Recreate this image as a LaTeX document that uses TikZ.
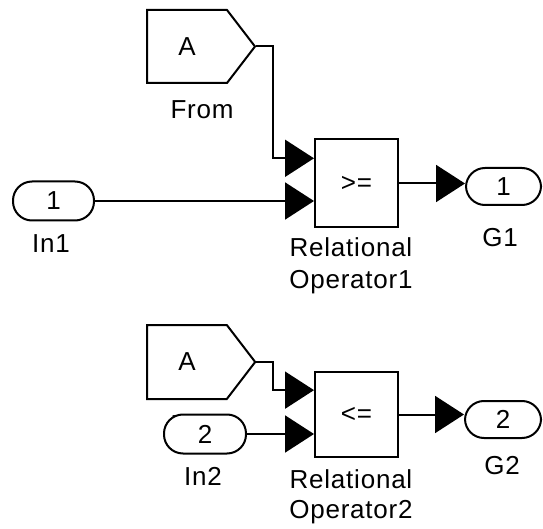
\documentclass[tikz,border=0pt]{standalone}
\usepackage{fontspec}
\setmainfont{Liberation Sans}[LetterSpace=3]
\usetikzlibrary{shapes.symbols,arrows.meta,calc}
\begin{document}
\begin{tikzpicture}[x=1pt,y=-1pt,
  font=\fontsize{26}{30}\selectfont,
  line width=2pt,
  fromblk/.style={draw,shape=signal,signal to=east,signal from=nowhere,
    signal pointer angle=105,minimum width=108pt,minimum height=73pt,inner sep=0pt},
  opblk/.style={draw,rectangle,minimum width=83pt,minimum height=88pt,inner sep=0pt},
  port/.style={draw,fill=white,rectangle,rounded corners=19pt,minimum width=81pt,
    minimum height=39pt,inner sep=0pt},
  lbl/.style={inner sep=0pt,anchor=base},
  wire/.style={line width=2pt,-{Triangle[length=29pt,width=37pt]}}]
\useasboundingbox (0,0) rectangle (543,529);

% upper comparison: A >= In1
\node[fromblk] (from1) at (187,46.5) {A};
\node[lbl] (from1lbl) at (202,119) {From};
\node[opblk] (op1) at (356.5,183.5) {};
\node (ge) at (356.5,183.5) {>=};
\node[lbl] (op1lblA) at (351,257) {Relational};
\node[lbl] (op1lblB) at (351,288) {Operator1};
\node[port] (in1) at (53.5,201) {1};
\node[lbl] (in1lbl) at (51,252) {In1};
\node[port,minimum width=75pt,minimum height=37pt] (g1) at (503.5,186.5) {1};
\node[lbl] (g1lbl) at (500,247) {G1};

\draw[wire] (from1.east) -- ++(17,0) |- ($(op1.north west)!0.22!(op1.south west)$);
\draw[wire] (in1.east) -- (in1.east -| op1.west);
\draw[wire] (op1.east) -- (op1.east -| g1.west);

% lower comparison: A <= In2 (the In2 port sits over the From label)
\node[fromblk,minimum height=74pt] (from2) at (187,362) {A};
\node[lbl] (from2lbl) at (202,433) {From};
\node[opblk,minimum height=85pt] (op2) at (356.5,414.5) {};
\node (le) at (356.5,414.5) {<=};
\node[lbl] (op2lblA) at (351,488) {Relational};
\node[lbl] (op2lblB) at (351,518) {Operator2};
\node[port,minimum width=82pt] (in2) at (205,434) {2};
\node[lbl] (in2lbl) at (203,485) {In2};
\node[port,minimum width=76pt,minimum height=37pt] (g2) at (503,419.5) {2};
\node[lbl] (g2lbl) at (502,474) {G2};

\draw[wire] (from2.east) -- ++(17,0) |- ($(op2.north west)!0.22!(op2.south west)$);
\draw[wire] (in2.east) -- (in2.east -| op2.west);
\draw[wire] (op2.east) -- (op2.east -| g2.west);
\end{tikzpicture}
\end{document}
